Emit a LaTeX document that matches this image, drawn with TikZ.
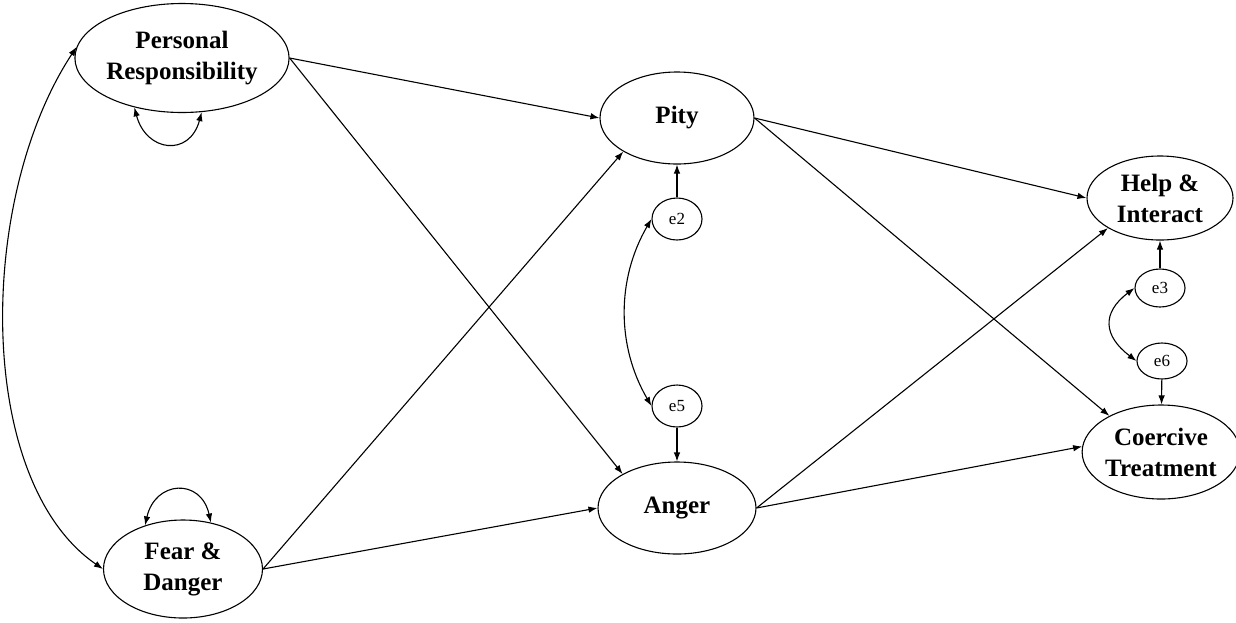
\documentclass[tikz,border=0pt]{standalone}
\usepackage{fontspec}
\setmainfont{Liberation Serif}
\usetikzlibrary{shapes.geometric,arrows.meta}
\begin{document}
\begin{tikzpicture}
    [
    x=1pt, y=-1pt, line width=1.1pt, >={Latex[length=9pt,width=6.5pt]},
    latent/.style={ellipse,draw,inner sep=0pt,align=center,font=\fontsize{25}{31}\selectfont\bfseries},
    err/.style={ellipse,draw,inner sep=0pt,minimum width=50pt,minimum height=42pt,font=\fontsize{17}{17}\selectfont}
    ]
    \useasboundingbox (0,0) rectangle (1236,622);
    \node (PR) at (182,58) [latent, minimum width=205pt, minimum height=109pt] {Personal\\Responsibility};
    \node (FD) at (183,569) [latent, minimum width=159pt, minimum height=98pt] {Fear \&\\Danger};
    \node (Pity) at (677,118) [latent, minimum width=154pt, minimum height=92pt] {Pity};
    \node (Anger) at (677,508) [latent, minimum width=158pt, minimum height=92pt] {Anger};
    \node (Help) at (1160,198) [latent, minimum width=146pt, minimum height=84pt] {Help \&\\Interact};
    \node (Coer) at (1161,452) [latent, minimum width=146pt, minimum height=94pt] {Coercive\\Treatment};
    \node (e2) at (677,219) [err] {e2};
    \node (e5) at (677,406) [err] {e5};
    \node (e3) at (1160,288) [err, minimum height=38pt] {e3};
    \node (e6) at (1162,361) [err, minimum height=36pt] {e6};
    \draw [->] (PR.east) to (Pity.west);
    \draw [->] (PR.east) to (Anger.148);
    \draw [->] (FD.east) to (Pity.212);
    \draw [->] (FD.east) to (Anger.west);
    \draw [->] (Pity.east) to (Help.west);
    \draw [->] (Pity.east) to (Coer.145);
    \draw [->] (Anger.east) to (Help.210);
    \draw [->] (Anger.east) to (Coer.176);
    \draw [->] (e2) to (Pity);
    \draw [->] (e5) to (Anger);
    \draw [->] (e3) to (Help);
    \draw [->] (e6) to (Coer);
    \draw [<->] (PR.174) .. controls +(-100,152) and +(-128,-88) .. (FD.west);
    \draw [<->] (PR.226) .. controls +(12,45) and +(-12,45) .. (PR.290);
    \draw [<->] (FD.131) .. controls +(10,-45) and +(-10,-45) .. (FD.59);
    \draw [<->] (e2.west) .. controls +(-35,60) and +(-35,-60) .. (e5.west);
    \draw [<->] (e3.west) .. controls +(-33,25) and +(-33,-25) .. (e6.west);
  \end{tikzpicture}
\end{document}
